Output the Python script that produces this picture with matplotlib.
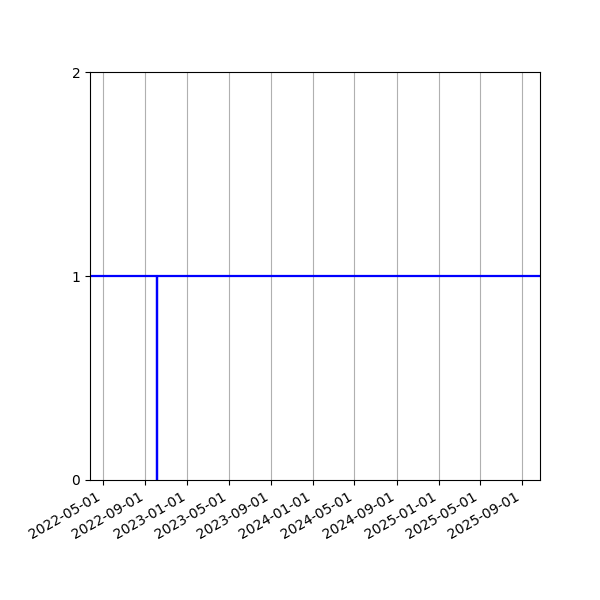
import matplotlib
matplotlib.use("Agg")
import matplotlib.pyplot as plt
import matplotlib.dates as mdates
import pandas as pd

dates = ["2022-03-24", "2022-10-05", "2022-10-05", "2022-10-05", "2025-10-23"]
values = [1, 1, 0, 1, 1]
tick_dates = ["2022-05-01", "2022-09-01", "2023-01-01", "2023-05-01", "2023-09-01",
              "2024-01-01", "2024-05-01", "2024-09-01", "2025-01-01", "2025-05-01",
              "2025-09-01"]
y_ticks = [0, 1, 2]

x = pd.to_datetime(dates)
fig, ax = plt.subplots(figsize=(6, 6), dpi=100)
fig.subplots_adjust(left=0.15, right=0.9, top=0.88, bottom=0.2)
ax.plot(x, values, color="blue", linewidth=1.6)
ax.set_xlim(x[0], x[-1])
ax.set_ylim(0, 2)
ax.set_yticks(y_ticks)
ax.set_xticks(pd.to_datetime(tick_dates))
ax.xaxis.set_major_formatter(mdates.DateFormatter("%Y-%m-%d"))
ax.grid(axis="x")
for lbl in ax.get_xticklabels():
    lbl.set_rotation(30)
    lbl.set_ha("right")
fig.savefig("out.png")
